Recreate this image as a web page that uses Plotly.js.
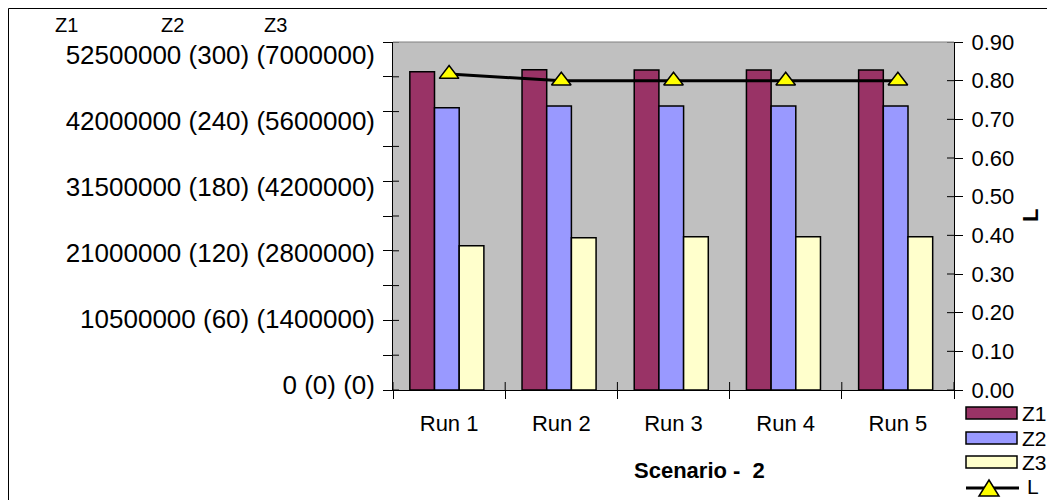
<!DOCTYPE html>
<html>
<head>
<meta charset="utf-8">
<script src="https://cdn.plot.ly/plotly-3.0.1.min.js"></script>
<style>html,body{margin:0;padding:0;background:#fff;}#chart{width:1047px;height:500px;}</style>
</head>
<body>
<div id="chart"></div>
<script>
// ---- data ----
const runs = ["Run 1", "Run 2", "Run 3", "Run 4", "Run 5"];
const z1 = [48020000, 48300000, 48280000, 48280000, 48280000];
const z2 = [243.4, 244.8, 244.9, 244.9, 244.9];
const z3 = [2903000, 3063000, 3084000, 3084000, 3084000];
const L = [0.817, 0.800, 0.800, 0.800, 0.800];
const leftTickVals = [0, 10500000, 21000000, 31500000, 42000000, 52500000];
const leftTickText = ["0 (0) (0)", "10500000 (60) (1400000)", "21000000 (120) (2800000)",
  "31500000 (180) (4200000)", "42000000 (240) (5600000)", "52500000 (300) (7000000)"];
const seriesNames = ["Z1", "Z2", "Z3", "L"];
const xTitle = "Scenario -\u00A0 2";
const y2Title = "L";

// ---- styles ----
const C1 = "#993366", C2 = "#9999FF", C3 = "#FFFFCC";
const FONT = "Liberation Sans, Arial, sans-serif";
const W = 1047, H = 500;
const M = {l: 393, r: 93, t: 42, b: 110};
const PW = W - M.l - M.r, PH = H - M.t - M.b;
const px = x => (x - M.l) / PW;
const py = y => (H - M.b - y) / PH;

const barLine = {color: "#000", width: 1.5};
const traces = [
  {type: "bar", x: runs, y: z1, name: seriesNames[0], yaxis: "y", width: 0.22, offset: -0.35,
   marker: {color: C1, line: barLine}, showlegend: false, hoverinfo: "y"},
  {type: "bar", x: runs, y: z2, name: seriesNames[1], yaxis: "y2", width: 0.22, offset: -0.13,
   marker: {color: C2, line: barLine}, showlegend: false, hoverinfo: "y"},
  {type: "bar", x: runs, y: z3, name: seriesNames[2], yaxis: "y3", width: 0.22, offset: 0.09,
   marker: {color: C3, line: barLine}, showlegend: false, hoverinfo: "y"},
  {type: "scatter", mode: "lines+markers", x: runs, y: L, name: seriesNames[3], yaxis: "y4",
   line: {color: "#000", width: 3},
   marker: {symbol: "triangle-up", size: 17, color: "#FFFF00", line: {color: "#000", width: 1.5}},
   showlegend: false},
  // carrier for the shared left-axis label column (no visible marks)
  {type: "scatter", mode: "none", x: runs, y: runs.map(() => null), yaxis: "y5", showlegend: false, hoverinfo: "skip"}
];

const shapes = [];
// inner parts of crossing ticks
for (let k = 0; k <= 10; k++) {
  shapes.push({type: "line", xref: "paper", yref: "y", x0: 0, x1: 6 / PW, y0: k * 5250000, y1: k * 5250000,
    line: {color: "#000", width: 1}});
}
for (let k = 0; k <= 9; k++) {
  shapes.push({type: "line", xref: "paper", yref: "y4", x0: 1 - 7 / PW, x1: 1, y0: k * 0.1, y1: k * 0.1,
    line: {color: "#000", width: 1}});
}
for (let k = 0; k <= runs.length; k++) {
  shapes.push({type: "line", xref: "x", yref: "paper", x0: k - 0.5, x1: k - 0.5, y0: 0, y1: 8 / PH,
    line: {color: "#000", width: 1}});
}
// top edge of plot area
shapes.push({type: "line", xref: "paper", yref: "paper", x0: 0, x1: 1, y0: 1, y1: 1, line: {color: "#808080", width: 1}});
// outer chart border
shapes.push({type: "rect", xref: "paper", yref: "paper", x0: px(8.5), x1: px(1060), y0: py(515), y1: py(8.5),
  line: {color: "#000", width: 1}, fillcolor: "rgba(0,0,0,0)"});
// custom legend
const legY = [[407, 419], [432, 444], [456, 468]];
const legC = [C1, C2, C3];
for (let i = 0; i < 3; i++) {
  shapes.push({type: "rect", xref: "paper", yref: "paper", x0: px(966), x1: px(1017), y0: py(legY[i][1]), y1: py(legY[i][0]),
    fillcolor: legC[i], line: {color: "#000", width: 1.5}});
}
shapes.push({type: "line", xref: "paper", yref: "paper", x0: px(966), x1: px(1019), y0: py(488), y1: py(488),
  line: {color: "#000", width: 3}});
shapes.push({type: "path", xref: "paper", yref: "paper",
  path: `M${px(979)},${py(496)} L${px(999)},${py(496)} L${px(989)},${py(480)} Z`,
  fillcolor: "#FFFF00", line: {color: "#000", width: 1.5}});

const annotations = [];
const legTY = [413, 438, 462, 486];
for (let i = 0; i < 4; i++) {
  annotations.push({xref: "paper", yref: "paper", x: px(i < 3 ? 1020 : 1025), y: py(legTY[i]), xanchor: "left", yanchor: "middle",
    text: seriesNames[i], showarrow: false, font: {family: FONT, size: 21, color: "#000"}});
}
const topX = [66.5, 172, 275];
for (let i = 0; i < 3; i++) {
  annotations.push({xref: "paper", yref: "paper", x: px(topX[i]), y: py(25), xanchor: "center", yanchor: "middle",
    text: seriesNames[i], showarrow: false, font: {family: FONT, size: 20, color: "#000"}});
}
annotations.push({xref: "paper", yref: "paper", x: px(699), y: py(470), xanchor: "center", yanchor: "middle",
  text: "<b>" + xTitle + "</b>", showarrow: false, font: {family: FONT, size: 22, color: "#000"}});
annotations.push({xref: "paper", yref: "paper", x: px(1030), y: py(216), xanchor: "center", yanchor: "middle",
  text: "<b>" + y2Title + "</b>", textangle: -90, showarrow: false, font: {family: FONT, size: 22, color: "#000"}});

const per = 52500000 / 330;
const layout = {
  width: W, height: H,
  margin: M,
  paper_bgcolor: "#FFFFFF",
  plot_bgcolor: "#C0C0C0",
  barmode: "overlay",
  showlegend: false,
  font: {family: FONT, color: "#000"},
  xaxis: {type: "category", categoryorder: "array", categoryarray: runs, range: [-0.5, runs.length - 0.5],
    tickson: "boundaries", ticks: "outside", ticklen: 8, tickcolor: "#000", tickwidth: 1,
    showline: true, linecolor: "#000", linewidth: 1, showgrid: false, zeroline: false,
    tickfont: {family: FONT, size: 22, color: "#000"}, ticklabelstandoff: 14, fixedrange: true},
  yaxis: {range: [0, 52500000], tick0: 0, dtick: 5250000, ticks: "outside", ticklen: 9, tickcolor: "#000",
    showticklabels: false, showline: true, linecolor: "#000", linewidth: 1, showgrid: false, zeroline: false, fixedrange: true},
  yaxis2: {overlaying: "y", range: [0, 300], visible: false, fixedrange: true},
  yaxis3: {overlaying: "y", range: [0, 7000000], visible: false, fixedrange: true},
  yaxis4: {overlaying: "y", side: "right", range: [0, 0.9], tick0: 0, dtick: 0.1, tickformat: ".2f",
    ticks: "outside", ticklen: 8, tickcolor: "#000", showline: true, linecolor: "#000", linewidth: 1,
    showgrid: false, zeroline: false, tickfont: {family: FONT, size: 22, color: "#000"}, ticklabelstandoff: 4, fixedrange: true},
  yaxis5: {overlaying: "y", side: "left", range: [-5 * per, 52500000 + 13 * per], tickmode: "array",
    tickvals: leftTickVals, ticktext: leftTickText, ticks: "", showline: false, showgrid: false, zeroline: false,
    tickfont: {family: FONT, size: 26, color: "#000"}, ticklabelstandoff: 17, fixedrange: true},
  shapes: shapes,
  annotations: annotations
};

Plotly.newPlot("chart", traces, layout, {displayModeBar: false, staticPlot: true});
</script>
</body>
</html>
